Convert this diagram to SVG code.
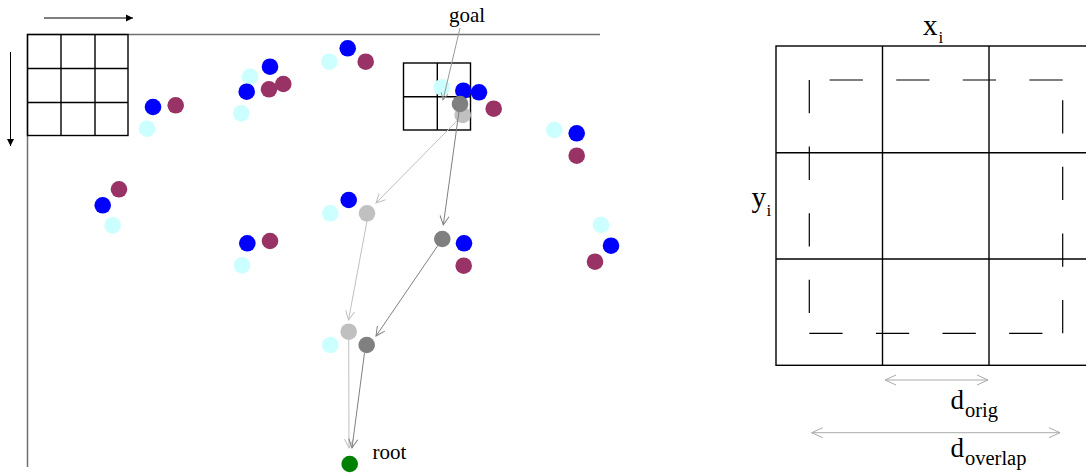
<svg xmlns="http://www.w3.org/2000/svg" width="1086" height="473" viewBox="0 0 1086 473">
<style>
.bg{fill:#fff}
.ax{stroke:#707070;stroke-width:1.5;fill:none}
.grid{stroke:#000;stroke-width:1.4;fill:none}
.dash{stroke:#000;stroke-width:1.2;fill:none;stroke-dasharray:33.3 33.3}
.blue{fill:#0000ff}
.mar{fill:#993366}
.cy{fill:#ccffff}
.dg{fill:#808080}
.lg{fill:#c0c0c0}
.gr{fill:#008000}
.cl{stroke:#c0c0c0;stroke-width:1;fill:none;marker-end:url(#ahl)}
.cd{stroke:#808080;stroke-width:1;fill:none;marker-end:url(#ahd)}
.cg{stroke:#999;stroke-width:1;fill:none;marker-end:url(#ahg)}
.dim{stroke:#aaa;stroke-width:1;fill:none;marker-start:url(#ahs);marker-end:url(#ahe)}
.small{stroke:#000;stroke-width:1;fill:none;marker-end:url(#ahf)}
.t{font-family:'Liberation Serif','Times New Roman',serif;fill:#000}
</style>
<defs>
<marker id="ahl" markerUnits="userSpaceOnUse" markerWidth="20" markerHeight="20" refX="0" refY="0" viewBox="-10 -10 20 20" orient="auto"><path d="M-9,-4.5 L0,0 L-9,4.5" stroke="#c0c0c0" fill="none"/></marker>
<marker id="ahd" markerUnits="userSpaceOnUse" markerWidth="20" markerHeight="20" refX="0" refY="0" viewBox="-10 -10 20 20" orient="auto"><path d="M-9,-4.5 L0,0 L-9,4.5" stroke="#808080" fill="none"/></marker>
<marker id="ahg" markerUnits="userSpaceOnUse" markerWidth="20" markerHeight="20" refX="0" refY="0" viewBox="-10 -10 20 20" orient="auto"><path d="M-7,-3.5 L0,0 L-7,3.5" stroke="#999" fill="none"/></marker>
<marker id="ahe" markerUnits="userSpaceOnUse" markerWidth="24" markerHeight="24" refX="0" refY="0" viewBox="-12 -12 24 24" orient="auto"><path d="M-11,-5 L0,0 L-11,5" stroke="#aaa" fill="none"/></marker>
<marker id="ahs" markerUnits="userSpaceOnUse" markerWidth="24" markerHeight="24" refX="0" refY="0" viewBox="-12 -12 24 24" orient="auto-start-reverse"><path d="M-11,-5 L0,0 L-11,5" stroke="#aaa" fill="none"/></marker>
<marker id="ahf" markerUnits="userSpaceOnUse" markerWidth="20" markerHeight="20" refX="0" refY="0" viewBox="-10 -10 20 20" orient="auto"><path d="M-7,-3.5 L0,0 L-7,3.5 Z" fill="#000"/></marker>
</defs>
<rect class="bg" x="0" y="0" width="1086" height="473"/>

<g id="axes">
<line class="ax" x1="27" y1="34.5" x2="600" y2="34.5"/>
<line class="ax" x1="27.5" y1="34" x2="27.5" y2="467"/>
<line class="small" x1="44" y1="18" x2="133" y2="18"/>
<line class="small" x1="10.5" y1="52" x2="10.5" y2="146"/>
</g>

<g id="grid-topleft">
<rect class="grid" x="27.5" y="34.5" width="100.5" height="101"/>
<line class="grid" x1="61" y1="34.5" x2="61" y2="135.5"/>
<line class="grid" x1="95" y1="34.5" x2="95" y2="135.5"/>
<line class="grid" x1="27.5" y1="68.5" x2="128" y2="68.5"/>
<line class="grid" x1="27.5" y1="102.5" x2="128" y2="102.5"/>
</g>

<g id="grid-goal">
<rect class="grid" x="403.5" y="63" width="67" height="67"/>
<line class="grid" x1="437.3" y1="63" x2="437.3" y2="130"/>
<line class="grid" x1="403.5" y1="96.7" x2="470.5" y2="96.7"/>
</g>

<g id="cluster-a">
<circle class="blue" cx="153" cy="107" r="8.3"/>
<circle class="mar" cx="175.7" cy="105.3" r="8.3"/>
<circle class="cy" cx="147" cy="128.7" r="8.3"/>
</g>
<g id="cluster-b">
<circle class="cy" cx="250" cy="76.7" r="8.3"/>
<circle class="blue" cx="270" cy="66.7" r="8.3"/>
<circle class="blue" cx="246.7" cy="91.7" r="8.3"/>
<circle class="mar" cx="283.3" cy="84" r="8.3"/>
<circle class="mar" cx="269" cy="89.3" r="8.3"/>
<circle class="cy" cx="241.3" cy="113.3" r="8.3"/>
</g>
<g id="cluster-c">
<circle class="cy" cx="329.3" cy="61.7" r="8.3"/>
<circle class="blue" cx="347.7" cy="48.3" r="8.3"/>
<circle class="mar" cx="365.7" cy="61.7" r="8.3"/>
</g>
<g id="cluster-goal">
<circle class="cy" cx="441.7" cy="87.3" r="8.3"/>
<circle class="blue" cx="479" cy="92.3" r="8.3"/>
<circle class="blue" cx="463.3" cy="90.7" r="8.3"/>
<circle class="mar" cx="493.7" cy="108.7" r="8.3"/>
<circle class="lg" cx="462.7" cy="115" r="8.3"/>
<circle class="dg" cx="460" cy="104" r="8.3"/>
</g>
<g id="cluster-d">
<circle class="cy" cx="554.3" cy="130" r="8.3"/>
<circle class="blue" cx="576.7" cy="133.3" r="8.3"/>
<circle class="mar" cx="576.7" cy="155.7" r="8.3"/>
</g>
<g id="cluster-e">
<circle class="mar" cx="119" cy="189.3" r="8.3"/>
<circle class="blue" cx="102.7" cy="205.3" r="8.3"/>
<circle class="cy" cx="112.7" cy="225.3" r="8.3"/>
</g>
<g id="cluster-f">
<circle class="blue" cx="348.7" cy="200" r="8.3"/>
<circle class="cy" cx="330.3" cy="213.3" r="8.3"/>
<circle class="lg" cx="367" cy="213.3" r="8.3"/>
</g>
<g id="cluster-g">
<circle class="dg" cx="442.3" cy="239" r="8.3"/>
<circle class="blue" cx="464" cy="243.3" r="8.3"/>
<circle class="mar" cx="463.7" cy="265.7" r="8.3"/>
</g>
<g id="cluster-h">
<circle class="blue" cx="247.3" cy="243.3" r="8.3"/>
<circle class="mar" cx="270" cy="241" r="8.3"/>
<circle class="cy" cx="242" cy="265.3" r="8.3"/>
</g>
<g id="cluster-i">
<circle class="cy" cx="601" cy="225" r="8.3"/>
<circle class="blue" cx="611" cy="245.7" r="8.3"/>
<circle class="mar" cx="595" cy="261.7" r="8.3"/>
</g>
<g id="cluster-j">
<circle class="lg" cx="348.7" cy="331.7" r="8.3"/>
<circle class="cy" cx="330.3" cy="345" r="8.3"/>
<circle class="dg" cx="366.7" cy="345" r="8.3"/>
</g>
<g id="root">
<circle class="gr" cx="349.7" cy="464" r="8.3"/>
<text class="t" font-family="Liberation Serif, serif" x="372.5" y="459" font-size="21">root</text>
</g>
<g id="goal-label">
<text class="t" font-family="Liberation Serif, serif" x="449" y="22" font-size="21">goal</text>
</g>

<g id="connectors">
<line class="cg" x1="460" y1="28" x2="443" y2="100"/>
<line class="cl" x1="462.7" y1="115" x2="376" y2="203"/>
<line class="cd" x1="460" y1="104" x2="443.3" y2="225"/>
<line class="cl" x1="367" y1="221" x2="348.5" y2="320"/>
<line class="cd" x1="442.3" y1="239" x2="376" y2="336"/>
<line class="cl" x1="348.7" y1="340" x2="349" y2="448"/>
<line class="cd" x1="364.5" y1="353" x2="352" y2="448"/>
</g>

<g id="overlap-grid">
<rect class="grid" x="776" y="46" width="319.5" height="319.3"/>
<line class="grid" x1="882.5" y1="46" x2="882.5" y2="365.3"/>
<line class="grid" x1="989" y1="46" x2="989" y2="365.3"/>
<line class="grid" x1="776" y1="152.7" x2="1095.5" y2="152.7"/>
<line class="grid" x1="776" y1="259" x2="1095.5" y2="259"/>
</g>
<g id="overlap-dashed">
<line class="dash" x1="809.3" y1="80" x2="809.3" y2="333.3"/>
<line class="dash" x1="809.3" y1="333.3" x2="1062.7" y2="333.3"/>
<line class="dash" x1="1062.7" y1="333.3" x2="1062.7" y2="80"/>
<line class="dash" x1="1062.7" y1="80" x2="809.3" y2="80"/>
</g>
<g id="label-x">
<text class="t" font-family="Liberation Serif, serif" x="923" y="34.5" font-size="29">x</text>
<text class="t" font-family="Liberation Serif, serif" x="938.5" y="43" font-size="17">i</text>
</g>
<g id="label-y">
<text class="t" font-family="Liberation Serif, serif" x="751.5" y="207" font-size="29">y</text>
<text class="t" font-family="Liberation Serif, serif" x="766.5" y="216" font-size="17">i</text>
</g>
<g id="dims">
<line class="dim" x1="885" y1="380" x2="988" y2="380"/>
<line class="dim" x1="811.7" y1="432.7" x2="1060" y2="432.7"/>
</g>
<g id="label-dorig">
<text class="t" font-family="Liberation Serif, serif" x="950.5" y="408.5" font-size="27">d</text>
<text class="t" font-family="Liberation Serif, serif" x="965" y="416.5" font-size="20.5">orig</text>
</g>
<g id="label-doverlap">
<text class="t" font-family="Liberation Serif, serif" x="950.5" y="456.5" font-size="27">d</text>
<text class="t" font-family="Liberation Serif, serif" x="965" y="465" font-size="20.5">overlap</text>
</g>
</svg>
